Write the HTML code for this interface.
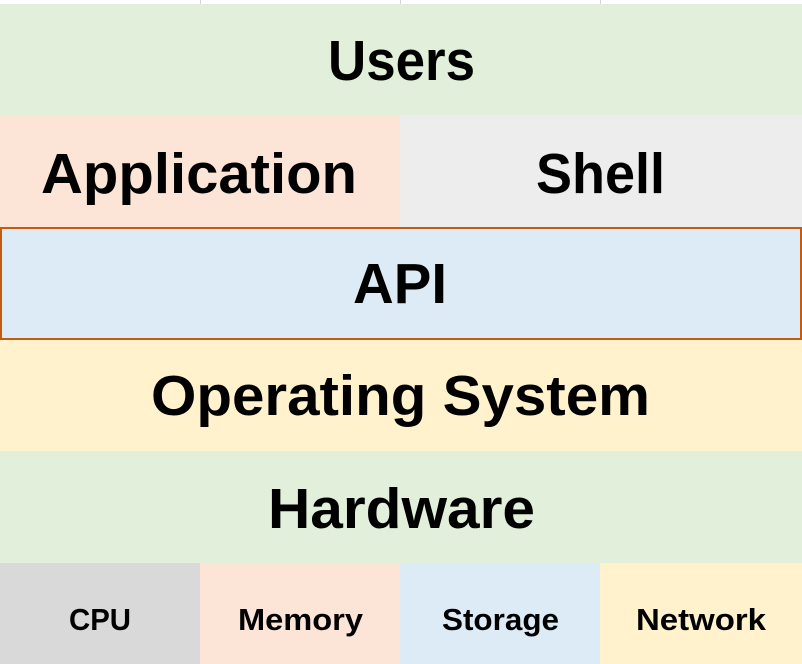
<!DOCTYPE html>
<html><head><meta charset="utf-8"><style>
html,body{margin:0;padding:0;background:#fff;}
svg{display:block;}
text{font-family:"Liberation Sans",sans-serif;font-weight:bold;fill:#000;}
</style></head><body>
<svg width="802" height="664" xmlns="http://www.w3.org/2000/svg">
<rect x="0" y="0" width="802" height="4" fill="#fff"/>
<line x1="200.5" y1="0" x2="200.5" y2="4" stroke="#d4d4d4"/>
<line x1="400.5" y1="0" x2="400.5" y2="4" stroke="#d4d4d4"/>
<line x1="600.5" y1="0" x2="600.5" y2="4" stroke="#d4d4d4"/>
<rect x="0" y="4" width="802" height="111" fill="#e2efda"/>
<rect x="0" y="115" width="400" height="112" fill="#fce4d6"/>
<rect x="400" y="115" width="402" height="112" fill="#ededed"/>
<rect x="1" y="228" width="800" height="111" fill="#ddebf7" stroke="#c55a11" stroke-width="2"/>
<rect x="0" y="340" width="802" height="111" fill="#fff2cc"/>
<rect x="0" y="451" width="802" height="112" fill="#e2efda"/>
<rect x="0" y="563" width="200" height="101" fill="#d9d9d9"/>
<rect x="200" y="563" width="200" height="101" fill="#fce4d6"/>
<rect x="400" y="563" width="200" height="101" fill="#ddebf7"/>
<rect x="600" y="563" width="202" height="101" fill="#fff2cc"/>
<text x="328" y="80" font-size="57" textLength="147" lengthAdjust="spacingAndGlyphs">Users</text>
<text x="41" y="193" font-size="57" textLength="316" lengthAdjust="spacingAndGlyphs">Application</text>
<text x="536" y="193" font-size="57" textLength="129" lengthAdjust="spacingAndGlyphs">Shell</text>
<text x="353" y="303" font-size="57" textLength="94" lengthAdjust="spacingAndGlyphs">API</text>
<text x="151" y="415" font-size="57" textLength="499" lengthAdjust="spacingAndGlyphs">Operating System</text>
<text x="268" y="528" font-size="57" textLength="267" lengthAdjust="spacingAndGlyphs">Hardware</text>
<text x="69" y="630" font-size="31" textLength="62" lengthAdjust="spacingAndGlyphs">CPU</text>
<text x="238" y="630" font-size="31" textLength="125" lengthAdjust="spacingAndGlyphs">Memory</text>
<text x="442" y="630" font-size="31" textLength="117" lengthAdjust="spacingAndGlyphs">Storage</text>
<text x="636" y="630" font-size="31" textLength="130" lengthAdjust="spacingAndGlyphs">Network</text>
</svg>
</body></html>
